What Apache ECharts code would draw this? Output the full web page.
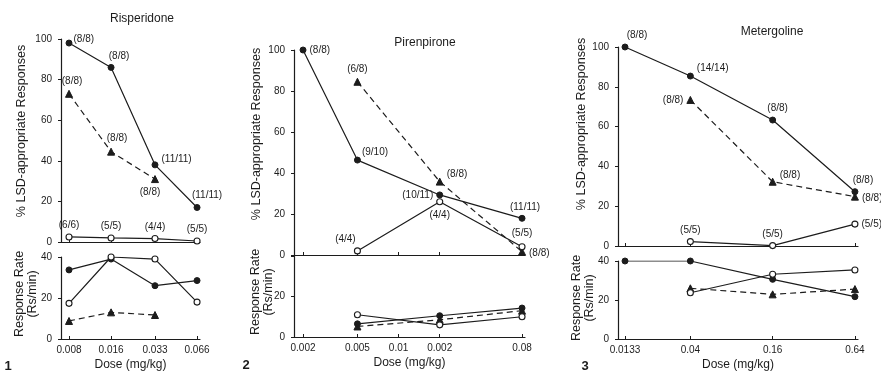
<!DOCTYPE html>
<html><head><meta charset="utf-8">
<script src="https://cdn.jsdelivr.net/npm/echarts@6/dist/echarts.min.js"></script>
<style>html,body{margin:0;padding:0;background:#fff}#c{width:881px;height:375px}</style>
</head><body><div id="c"></div>
<script>
// ---------- DATA ----------
const titles = ['Risperidone', 'Pirenpirone', 'Metergoline'];
const panelNumbers = ['1', '2', '3'];
const yNameTop = '% LSD-appropriate Responses';
const yNameRate = 'Response Rate\n(Rs/min)';
const xName = 'Dose (mg/kg)';

// Panel 1: Risperidone
const p1Dose = [0.008, 0.016, 0.033, 0.066];
const p1DoseTicks = [0.008, 0.016, 0.033, 0.066];
const p1DoseLabels = ['0.008', '0.016', '0.033', '0.066'];
const p1TopFilled = [98, 86, 38, 17];
const p1TopFilledN = ['(8/8)', '(8/8)', '(11/11)', '(11/11)'];
const p1TopTri = [73, 44.5, 31, null];
const p1TopTriN = ['(8/8)', '(8/8)', '(8/8)', ''];
const p1TopOpen = [2.5, 2, 1.7, 0.5];
const p1TopOpenN = ['(6/6)', '(5/5)', '(4/4)', '(5/5)'];
const p1RateFilled = [33.7, 39, 26, 28.5];
const p1RateOpen = [17.4, 40, 39, 18];
const p1RateTri = [8.8, 13, 11.7, null];

// Panel 2: Pirenpirone
const p2Dose = [0.002, 0.005, 0.02, 0.08];
const p2DoseTicks = [0.002, 0.005, 0.01, 0.02, 0.08];
const p2DoseLabels = ['0.002', '0.005', '0.01', '0.002', '0.08'];
const p2TopFilled = [100, 46.3, 29.3, 17.9];
const p2TopFilledN = ['(8/8)', '(9/10)', '(10/11)', '(11/11)'];
const p2TopTri = [null, 84.5, 35.8, 1.6];
const p2TopTriN = ['', '(6/8)', '(8/8)', '(8/8)'];
const p2TopOpen = [null, 2, 26, 4];
const p2TopOpenN = ['', '(4/4)', '(4/4)', '(5/5)'];
const p2RateFilled = [null, 6.5, 10.5, 14.3];
const p2RateOpen = [null, 11, 6, 10];
const p2RateTri = [null, 5.2, 8.5, 13];

// Panel 3: Metergoline
const p3Dose = [0.0133, 0.04, 0.16, 0.64];
const p3DoseTicks = [0.0133, 0.04, 0.16, 0.64];
const p3DoseLabels = ['0.0133', '0.04', '0.16', '0.64'];
const p3TopFilled = [100, 85.4, 63.3, 27.3];
const p3TopFilledN = ['(8/8)', '(14/14)', '(8/8)', '(8/8)'];
const p3TopTri = [null, 73.4, 32.3, 24.8];
const p3TopTriN = ['', '(8/8)', '(8/8)', '(8/8)'];
const p3TopOpen = [null, 2.2, 0.2, 11];
const p3TopOpenN = ['', '(5/5)', '(5/5)', '(5/5)'];
const p3RateFilled = [40, 40, 30.6, 21.7];
const p3RateOpen = [null, 23.7, 33.2, 35.4];
const p3RateTri = [null, 26, 22.9, 25.6];

// ---------- STYLE / LAYOUT ----------
const INK = '#1c1c1c';
const FONT = 'Liberation Sans';
const NARROW = '"Liberation Sans Narrow", "Liberation Sans"';

const grids = [
  {left: 61, top: 39, width: 139, height: 203},
  {left: 61, top: 257, width: 139, height: 82},
  {left: 294, top: 50, width: 231, height: 205},
  {left: 294, top: 256, width: 231, height: 81},
  {left: 618, top: 47, width: 240, height: 199},
  {left: 618, top: 261, width: 240, height: 78}
];
const xRange = [[0.00701, 0.0693], [0.001718, 0.0841], [0.01182, 0.674]];
const doseTicks = [p1DoseTicks, p2DoseTicks, p3DoseTicks];
const doseLabels = [p1DoseLabels, p2DoseLabels, p3DoseLabels];
const topNamePos = [[22, 131], [257, 134], [582, 124]];
const rateNamePos = [[26, 294], [262, 292], [583, 298]];

// label placements: [position, offset]
const L = {
  p1f: [['right', [-2, -4]], ['top', [8, 0]], ['right', [0, -6]], ['top', [10, -1]]],
  p1t: [['top', [3, -1]], ['top', [6, -1]], ['bottom', [-5, 1]], null],
  p1o: [['top', [0, 0]], ['top', [0, 0]], ['top', [0, 0]], ['top', [0, 0]]],
  p2f: [['right', [0, 0]], ['right', [-2, -8]], ['left', [0, 0]], ['top', [3, 0]]],
  p2t: [null, ['top', [0, -1]], ['right', [0, -7]], ['right', [0, 2]]],
  p2o: [null, ['top', [-12, 0]], ['bottom', [0, 2]], ['top', [0, -2]]],
  p3f: [['top', [12, 0]], ['right', [0, -8]], ['top', [5, 0]], ['top', [8, 0]]],
  p3t: [null, ['left', [0, 0]], ['right', [0, -6]], ['right', [0, 2]]],
  p3o: [null, ['top', [0, 0]], ['top', [0, 0]], ['right', [0, 0]]]
};

function kindStyle(kind) {
  if (kind === 'filled') return {symbol: 'circle', symbolSize: 6, itemStyle: {color: INK, borderColor: INK}, lineStyle: {color: INK, width: 1.2, type: 'solid'}};
  if (kind === 'open') return {symbol: 'circle', symbolSize: 6, itemStyle: {color: '#fff', borderColor: INK, borderWidth: 1.1}, lineStyle: {color: INK, width: 1.2, type: 'solid'}};
  return {symbol: 'triangle', symbolSize: 7, itemStyle: {color: INK, borderColor: INK}, lineStyle: {color: INK, width: 1.2, type: [6, 4]}};
}

function mk(dose, vals, labels, gi, kind, pos) {
  const data = [];
  vals.forEach((v, i) => {
    if (v === null || v === undefined) return;
    const item = {value: [dose[i], v]};
    if (labels && labels[i] && pos && pos[i]) {
      item.label = {show: true, formatter: labels[i], position: pos[i][0], offset: pos[i][1]};
    }
    data.push(item);
  });
  return Object.assign({
    type: 'line', xAxisIndex: gi, yAxisIndex: gi, data: data, z: kind === 'open' ? 3 : 2,
    animation: false, silent: true,
    label: {show: false, color: INK, fontFamily: FONT, fontSize: 10, distance: 3}
  }, kindStyle(kind));
}

function fmtDose(p) {
  return function (v) {
    const t = doseTicks[p];
    let best = 0, bd = 1e9;
    t.forEach((x, i) => { const d = Math.abs(Math.log10(x) - Math.log10(v)); if (d < bd) { bd = d; best = i; } });
    return bd < 0.02 ? doseLabels[p][best] : '';
  };
}

const xAxes = [], yAxes = [];
for (let p = 0; p < 3; p++) {
  for (let r = 0; r < 2; r++) {
    const gi = p * 2 + r;
    xAxes.push({
      gridIndex: gi, type: 'log', logBase: 10, min: xRange[p][0], max: xRange[p][1],
      axisLine: {show: true, onZero: false, lineStyle: {color: INK, width: 1.2}},
      axisTick: {show: true, inside: true, length: 3, customValues: doseTicks[p], lineStyle: {color: INK}},
      axisLabel: r === 1 ? {show: true, customValues: doseTicks[p], formatter: fmtDose(p), color: INK, fontFamily: NARROW, fontSize: 10, margin: 6} : {show: false},
      splitLine: {show: false}, minorTick: {show: false},
      name: r === 1 ? xName : '', nameLocation: 'middle', nameGap: 20,
      nameTextStyle: {color: INK, fontFamily: FONT, fontSize: 12}
    });
    yAxes.push({
      gridIndex: gi, type: 'value', min: 0, max: r === 0 ? 100 : 40, interval: 20,
      axisLine: {show: true, lineStyle: {color: INK, width: 1.2}},
      axisTick: {show: true, length: 3, lineStyle: {color: INK}},
      axisLabel: {color: INK, fontFamily: NARROW, fontSize: 10, margin: 9,
        formatter: (p === 1 && r === 1) ? (v => v === 40 ? '' : v) : (v => v)},
      splitLine: {show: false}
    });
  }
}

const series = [
  mk(p1Dose, p1TopFilled, p1TopFilledN, 0, 'filled', L.p1f),
  mk(p1Dose, p1TopTri, p1TopTriN, 0, 'tri', L.p1t),
  mk(p1Dose, p1TopOpen, p1TopOpenN, 0, 'open', L.p1o),
  mk(p1Dose, p1RateFilled, null, 1, 'filled'),
  mk(p1Dose, p1RateOpen, null, 1, 'open'),
  mk(p1Dose, p1RateTri, null, 1, 'tri'),
  mk(p2Dose, p2TopFilled, p2TopFilledN, 2, 'filled', L.p2f),
  mk(p2Dose, p2TopTri, p2TopTriN, 2, 'tri', L.p2t),
  mk(p2Dose, p2TopOpen, p2TopOpenN, 2, 'open', L.p2o),
  mk(p2Dose, p2RateFilled, null, 3, 'filled'),
  mk(p2Dose, p2RateOpen, null, 3, 'open'),
  mk(p2Dose, p2RateTri, null, 3, 'tri'),
  mk(p3Dose, p3TopFilled, p3TopFilledN, 4, 'filled', L.p3f),
  mk(p3Dose, p3TopTri, p3TopTriN, 4, 'tri', L.p3t),
  mk(p3Dose, p3TopOpen, p3TopOpenN, 4, 'open', L.p3o),
  mk(p3Dose, p3RateFilled, null, 5, 'filled'),
  mk(p3Dose, p3RateOpen, null, 5, 'open'),
  mk(p3Dose, p3RateTri, null, 5, 'tri')
];

const titlePos = [[142, 19], [425, 43], [772, 32]];
const numPos = [[8, 366], [246, 365], [585, 366]];
const graphic = [];
titles.forEach((t, i) => graphic.push({type: 'text', x: titlePos[i][0], y: titlePos[i][1],
  style: {text: t, fill: INK, font: '12px "Liberation Sans"', textAlign: 'center', textVerticalAlign: 'middle'}}));
panelNumbers.forEach((t, i) => graphic.push({type: 'text', x: numPos[i][0], y: numPos[i][1],
  style: {text: t, fill: INK, font: 'bold 13px "Liberation Sans"', textAlign: 'center', textVerticalAlign: 'middle'}}));
for (let p = 0; p < 3; p++) {
  graphic.push({type: 'text', x: topNamePos[p][0], y: topNamePos[p][1], rotation: Math.PI / 2,
    style: {text: yNameTop, fill: INK, font: '12.5px "Liberation Sans"', textAlign: 'center', textVerticalAlign: 'middle'}});
  graphic.push({type: 'text', x: rateNamePos[p][0], y: rateNamePos[p][1], rotation: Math.PI / 2,
    style: {text: yNameRate, fill: INK, font: '12.5px "Liberation Sans"', lineHeight: 13, textAlign: 'center', textVerticalAlign: 'middle'}});
}

const chart = echarts.init(document.getElementById('c'), null, {renderer: 'canvas'});
chart.setOption({
  backgroundColor: '#fff', animation: false,
  grid: grids.map(g => Object.assign({containLabel: false}, g)),
  xAxis: xAxes, yAxis: yAxes, series: series, graphic: graphic
});
</script></body></html>
